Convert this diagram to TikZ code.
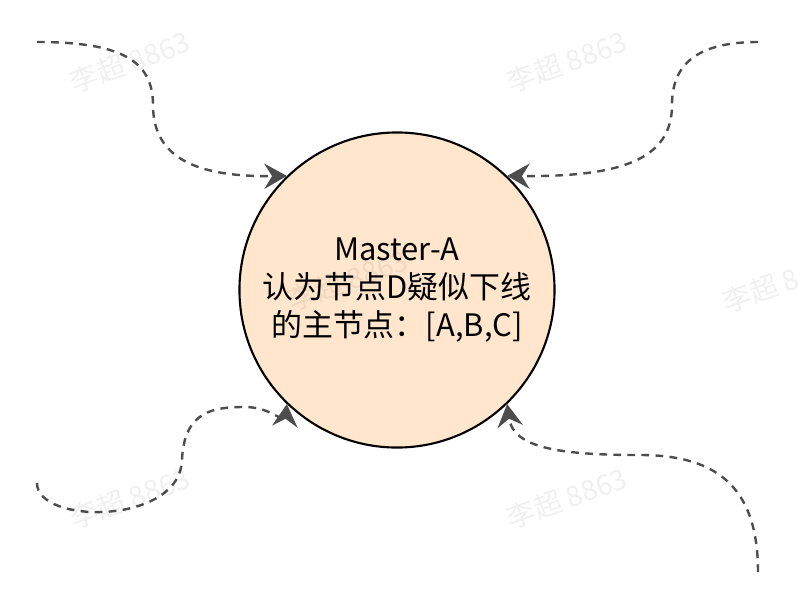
\documentclass[tikz,border=0pt]{standalone}
\usepackage{fontspec}
\newfontfamily\cjk{Noto Sans CJK SC}
\usetikzlibrary{arrows.meta}
\definecolor{nodefill}{HTML}{FFE6CC}
\definecolor{edgegray}{HTML}{4D4D4D}

\begin{document}
\begin{tikzpicture}[x=0.025cm, y=-0.025cm,
        master/.style={circle, draw=black, line width=1.5pt, fill=nodefill,
            minimum size=7.875cm, inner sep=0pt, align=center,
            font=\cjk\fontsize{22}{27}\selectfont},
        vote/.style={draw=edgegray, line width=1.7pt, dash pattern=on 5.5pt off 4.5pt,
            -{Stealth[length=16pt, width=18pt, inset=5.5pt]}},
        watermark/.style={text=black, text opacity=0.06, rotate=20,
            font=\cjk\fontsize{20}{20}\selectfont}]
    % Page
    \useasboundingbox[fill=white] (0,0) rectangle (798,614);

    % Master node
    \node[master] (master) at (397,290) {Master-A\\认为节点D疑似下线\\的主节点：[A,B,C]};

    % Free ends of the incoming links
    \coordinate (tl) at (37,42);
    \coordinate (tr) at (758,42);
    \coordinate (bl) at (37,483);
    \coordinate (br) at (758,572);

    % Dashed links into the master
    \draw[vote] (tl) .. controls (120,42) and (153,60) .. (153,105)
        .. controls (153,160) and (200,177) .. (master.134);
    \draw[vote] (tr) .. controls (690,42) and (672,70) .. (672,105)
        .. controls (672,160) and (620,177) .. (master.46);
    \draw[vote] (bl) .. controls (37,525) and (180,525) .. (182,460)
        .. controls (184,410) and (215,407) .. (245,407)
        .. controls (272,407) and (285,425) .. (master.226);
    \draw[vote] (br) .. controls (758,490) and (720,455) .. (640,455)
        .. controls (560,455) and (513,448) .. (master.314);

    % Watermarks
    \foreach \wx/\wy in {130/62, 567/62, 348/280, 783/282, 130/498, 567/498}
        \node[watermark] (wm) at (\wx,\wy) {李超 8863};
\end{tikzpicture}
\end{document}
